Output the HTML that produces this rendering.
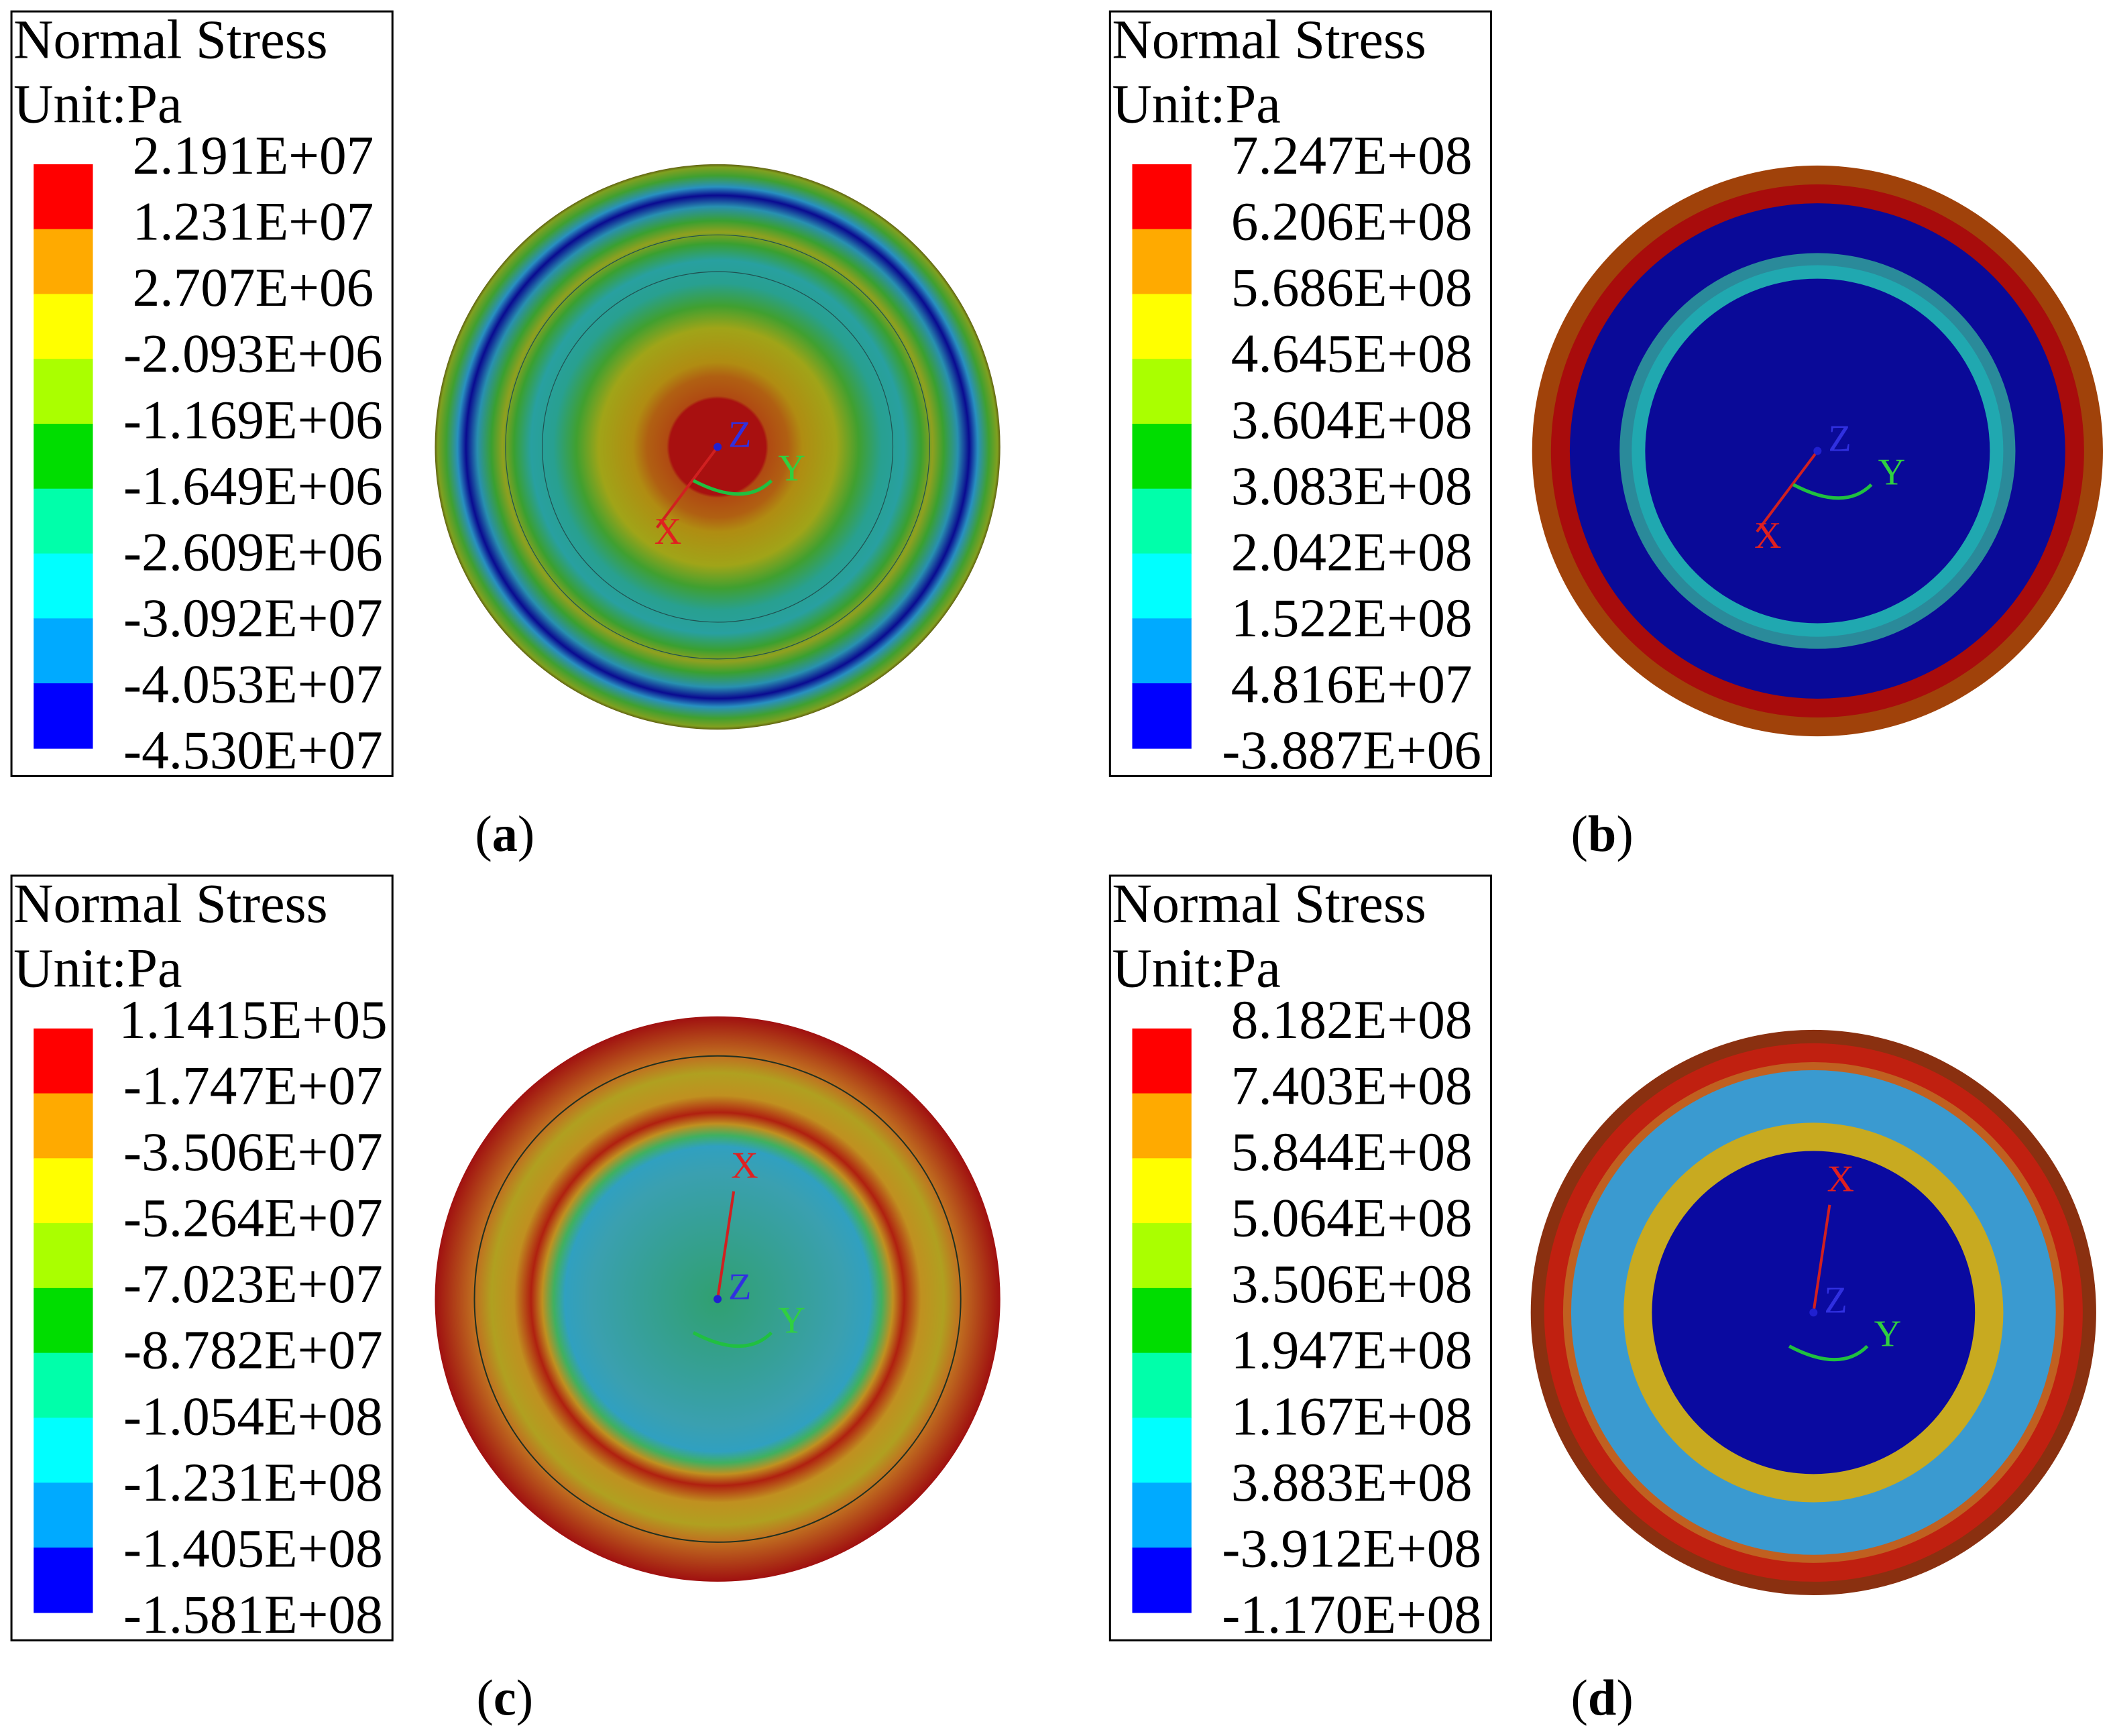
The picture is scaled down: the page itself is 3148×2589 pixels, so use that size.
<!DOCTYPE html>
<html><head><meta charset="utf-8"><style>
html,body{margin:0;padding:0;background:#fff;}
svg{display:block;}
text{font-family:"Liberation Serif",serif;}
</style></head><body>
<svg id="fig" width="3148" height="2589" viewBox="0 0 1568 1289.6" preserveAspectRatio="none" xmlns="http://www.w3.org/2000/svg">
<defs>
<radialGradient id="gA" cx="0.5" cy="0.5" r="0.5">
<stop offset="0" stop-color="#a81010"/><stop offset="0.17" stop-color="#a81010"/>
<stop offset="0.18" stop-color="#b04a12"/><stop offset="0.25" stop-color="#b06012"/>
<stop offset="0.3" stop-color="#b08c12"/><stop offset="0.42" stop-color="#a0a418"/>
<stop offset="0.5" stop-color="#40a030"/><stop offset="0.58" stop-color="#28a090"/>
<stop offset="0.66" stop-color="#28a0a0"/><stop offset="0.72" stop-color="#3aa030"/>
<stop offset="0.76" stop-color="#90a020"/><stop offset="0.8" stop-color="#3aa030"/>
<stop offset="0.85" stop-color="#2890b0"/><stop offset="0.89" stop-color="#0a0a90"/>
<stop offset="0.92" stop-color="#2890c0"/><stop offset="0.96" stop-color="#40a030"/>
<stop offset="0.99" stop-color="#80a020"/><stop offset="1" stop-color="#606010"/>
</radialGradient>
<radialGradient id="gC" cx="0.5" cy="0.5" r="0.5">
<stop offset="0" stop-color="#30a070"/><stop offset="0.45" stop-color="#3aa0b0"/>
<stop offset="0.54" stop-color="#30a0c0"/><stop offset="0.58" stop-color="#40b060"/>
<stop offset="0.62" stop-color="#c09020"/><stop offset="0.66" stop-color="#b02010"/>
<stop offset="0.72" stop-color="#c09020"/><stop offset="0.8" stop-color="#b0a020"/>
<stop offset="0.86" stop-color="#c07020"/><stop offset="1" stop-color="#a01010"/>
</radialGradient>
</defs>
<g id="panels"></g>
</svg>
<script>
const titles=["Normal Stress","Unit:Pa"];
const labelsA=["2.191E+07","1.231E+07","2.707E+06","-2.093E+06","-1.169E+06","-1.649E+06","-2.609E+06","-3.092E+07","-4.053E+07","-4.530E+07"];
const labelsB=["7.247E+08","6.206E+08","5.686E+08","4.645E+08","3.604E+08","3.083E+08","2.042E+08","1.522E+08","4.816E+07","-3.887E+06"];
const labelsC=["1.1415E+05","-1.747E+07","-3.506E+07","-5.264E+07","-7.023E+07","-8.782E+07","-1.054E+08","-1.231E+08","-1.405E+08","-1.581E+08"];
const labelsD=["8.182E+08","7.403E+08","5.844E+08","5.064E+08","3.506E+08","1.947E+08","1.167E+08","3.883E+08","-3.912E+08","-1.170E+08"];
const bandColors=["#ff0000","#ffaa00","#ffff00","#aaff00","#00dd00","#00ffaa","#00ffff","#00aaff","#0000ff"];
const captions=["a","b","c","d"];
const NS="http://www.w3.org/2000/svg";
const root=document.getElementById('panels');
function mk(tag,attrs,parent){const e=document.createElementNS(NS,tag);for(const k in attrs)e.setAttribute(k,attrs[k]);parent.appendChild(e);return e;}
const panels=[{lx:8,ly:8,labels:labelsA,cx:533,cy:332,cap:[375,620]},
{lx:824,ly:8,labels:labelsB,cx:1350,cy:335,cap:[1190,620]},
{lx:8,ly:650,labels:labelsC,cx:533,cy:965,cap:[375,1262]},
{lx:824,ly:650,labels:labelsD,cx:1347,cy:975,cap:[1190,1262]}];
panels.forEach((p,i)=>{
 const g=mk('g',{},root);
 
 
 const lg=mk('g',{},g);
 
 
 mk('rect',{x:p.lx+0.5,y:p.ly+0.5,width:283,height:568,fill:'#fff',stroke:'#000','stroke-width':1.5},lg);
 titles.forEach((t,k)=>{const tx=mk('text',{x:p.lx+2,y:p.ly+35+k*48,'font-size':41,fill:'#000'},lg);tx.textContent=t;
  });
 bandColors.forEach((c,k)=>{const r=mk('rect',{x:p.lx+17,y:p.ly+114+k*48.2,width:44,height:48.6,fill:c},lg);
  });
 p.labels.forEach((t,k)=>{const tx=mk('text',{x:p.lx+180,y:p.ly+121+k*49.1,'font-size':40.5,'text-anchor':'middle',fill:'#000'},lg);tx.textContent=t;
  });
 const cap=mk('text',{x:p.cap[0],y:p.cap[1]+12,'font-size':38,'text-anchor':'middle',fill:'#000'},g);
 cap.innerHTML='(<tspan font-weight="bold">'+captions[i]+'</tspan>)';
 
 const d=mk('g',{},g);
 
 
 const R=210,cx=p.cx,cy=p.cy;
 if(i===0){mk('circle',{cx,cy,r:R,fill:'url(#gA)'},d);
  mk('circle',{cx,cy,r:R*0.75,fill:'none',stroke:'#205050','stroke-width':0.6},d);
  mk('circle',{cx,cy,r:R*0.62,fill:'none',stroke:'#205050','stroke-width':0.6},d);}
 if(i===1){mk('circle',{cx,cy,r:212,fill:'#a0420a'},d);mk('circle',{cx,cy,r:198,fill:'#a80c0c'},d);
  mk('circle',{cx,cy,r:184,fill:'#0a0a98'},d);mk('circle',{cx,cy,r:147,fill:'#2a8a9a'},d);
  mk('circle',{cx,cy,r:138,fill:'#20a8b0'},d);mk('circle',{cx,cy,r:128,fill:'#0a0a98'},d);}
 if(i===2){mk('circle',{cx,cy,r:R,fill:'url(#gC)'},d);
  mk('circle',{cx,cy,r:R*0.86,fill:'none',stroke:'#203020','stroke-width':1},d);}
 if(i===3){mk('circle',{cx,cy,r:210,fill:'#8a3010'},d);mk('circle',{cx,cy,r:200,fill:'#c02010'},d);
  mk('circle',{cx,cy,r:186,fill:'#c06020'},d);mk('circle',{cx,cy,r:180,fill:'#3a9ad0'},d);
  mk('circle',{cx,cy,r:141,fill:'#c8aa20'},d);mk('circle',{cx,cy,r:120,fill:'#0a0aa0'},d);}
 const ax=mk('g',{},g);
 const up=(i>=2);
 const xl=up?[cx+12,cy-80]:[cx-45,cy+60];
 mk('line',{x1:cx,y1:cy,x2:xl[0],y2:xl[1],stroke:'#d02020','stroke-width':2},ax);
 mk('path',{d:`M${cx-18},${cy+25} Q${cx+20},${cy+45} ${cx+40},${cy+25}`,fill:'none',stroke:'#20c040','stroke-width':2.5},ax);
 mk('circle',{cx,cy,r:3,fill:'#2020d0'},ax);
 [['X',xl[0]-2,xl[1]+(up?-10:12),'#e02020'],['Y',cx+45,cy+25,'#30d040'],['Z',cx+8,cy,'#3030e0']].forEach(a=>{
  const t=mk('text',{x:a[1],y:a[2],'font-size':28,fill:a[3],'font-family':'Liberation Sans'},ax);t.textContent=a[0];
  });
});
</script>
</body></html>
